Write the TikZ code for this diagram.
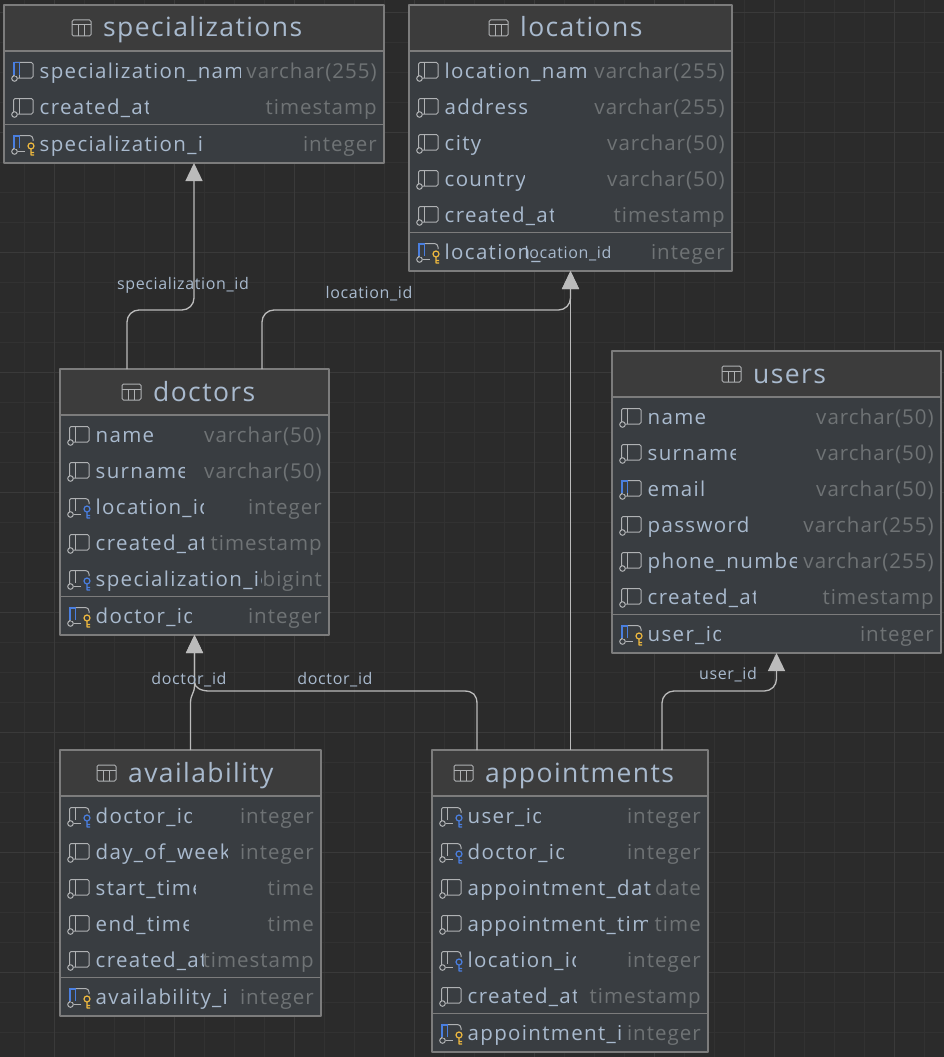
\documentclass[tikz,border=0pt]{standalone}
\usepackage{fontspec}
\setmainfont[LetterSpace=4]{Open Sans}
\newfontfamily\titlefont[LetterSpace=5.3]{Open Sans}
\newfontfamily\namefont[LetterSpace=6.5]{Open Sans}
\newfontfamily\typefont[LetterSpace=5]{Open Sans}
\usetikzlibrary{arrows.meta}
\definecolor{canvasbg}{HTML}{2B2B2B}
\definecolor{gridminor}{HTML}{323232}
\definecolor{gridmajor}{HTML}{3A3A3A}
\definecolor{headbg}{HTML}{3C3C3C}
\definecolor{bodybg}{HTML}{393D41}
\definecolor{edgegray}{HTML}{7C7C7C}
\definecolor{colname}{HTML}{A9BACE}
\definecolor{coltype}{HTML}{6F7375}
\definecolor{linkgray}{HTML}{BBBBBB}
\definecolor{iconline}{HTML}{AFB1B3}
\definecolor{iconblue}{HTML}{4A7FE0}
\definecolor{icongold}{HTML}{EDB83F}
\tikzset{
	dbtable/.style={draw=edgegray,line width=1.4pt,fill=bodybg,anchor=north west,inner sep=0pt,outer sep=0pt},
	dbtitle/.style={anchor=base west,inner sep=0pt,text=colname,font=\titlefont\fontsize{26.5}{30}\selectfont},
	dbcol/.style={anchor=base west,inner sep=0pt,text=colname,font=\namefont\fontsize{20.5}{24}\selectfont},
	dbtype/.style={anchor=base east,inner sep=0pt,text=coltype,font=\typefont\fontsize{20.5}{24}\selectfont},
	linklabel/.style={anchor=base,inner sep=0pt,text=colname,font=\fontsize{16}{18}\selectfont},
	link/.style={draw=linkgray,line width=1.3pt,rounded corners=12pt},
	iconstroke/.style={draw=iconline,line width=1pt}
}
% column icons, drawn round the origin of a shifted scope
\newcommand{\iconbody}{\draw[iconstroke,rounded corners=1.5pt] (9.5,5) -- (9.5,-8.5) -- (29,-8.5) -- (29,7) -- (13.5,7);
	\draw[iconstroke] (15.5,-8.5) -- (15.5,7);
	\draw[iconstroke] (10.5,7.5) circle (2.8);}
\newcommand{\iconshort}{\draw[iconstroke,rounded corners=1.5pt] (9.5,5) -- (9.5,-8.5) -- (27,-8.5) -- (29,-6.5) -- (29,-3);
	\draw[iconstroke] (15.5,-8.5) -- (15.5,4);
	\draw[iconstroke] (14,7.5) -- (21,7.5);
	\draw[iconstroke] (10.5,7.5) circle (2.8);}
\newcommand{\iconkey}[1]{\draw[draw=#1,line width=1.2pt] (27,2) circle (3) (27,5) -- (27,11) -- (30,11) (27,8.5) -- (30,8.5);}
\newcommand{\iconstrip}{\fill[iconblue] (9,-9) rectangle (15,4);\fill[bodybg] (11,-7.5) rectangle (15,5);\draw[iconblue,line width=1.2pt] (9.5,4) -- (9.5,-8.5) -- (15.5,-8.5) -- (15.5,4);}
\newcommand{\colplain}{\iconbody}
\newcommand{\colneeded}{\iconbody\iconstrip}
\newcommand{\colforeign}{\iconshort\iconkey{iconblue}}
\newcommand{\colprimary}{\iconshort\iconstrip\iconkey{icongold}}
% name, left, top, right, bottom, title, icon x, divider y
\newcommand{\dbbox}[8]{
	\node[dbtable,minimum width={(#4-#2)*1pt},minimum height={(#5-#3)*1pt}] (#1) at (#2,#3) {};
	\fill[headbg] (#2+1,#3+1) rectangle (#4-1,#3+45);
	\draw[edgegray,line width=1.4pt] (#2,#3+46) -- (#4,#3+46);
	\draw[edgegray,line width=.9pt] (#2,#8) -- (#4,#8);
	\draw[iconstroke,rounded corners=1.5pt] (#7,#3+15) rectangle (#7+19,#3+31);
	\draw[iconstroke] (#7,#3+20) -- (#7+19,#3+20) (#7+6.5,#3+20) -- (#7+6.5,#3+31) (#7+12.5,#3+20) -- (#7+12.5,#3+31);
	\node[dbtitle] (#1title) at (#7+31,#3+32) {#6};
}
% node name, left, right, y, clip x, text, type, icon
\newcommand{\dbrow}[8]{
	\begin{scope}[shift={(#2,#4)}]#8\end{scope}
	\begin{scope}
		\clip (#2+30,#4-16) rectangle (#5,#4+16);
		\node[dbcol] (#1) at (#2+35.5,#4+7) {#6};
	\end{scope}
	\node[dbtype] (#1type) at (#3-7,#4+7) {#7};
}
\begin{document}
\begin{tikzpicture}[x=1pt,y=-1pt,>={Triangle[length=18pt,width=17pt]},line join=round]
	\useasboundingbox (0,0) rectangle (944,1057);
	\fill[canvasbg] (0,0) rectangle (944,1057);
	\foreach \gx in {24,54,...,924} \draw[gridminor,line width=.8pt] (\gx,0) -- (\gx,1057);
	\foreach \gy in {12,42,...,1042} \draw[gridminor,line width=.8pt] (0,\gy) -- (944,\gy);
	\foreach \gx in {54,174,...,894} \draw[gridmajor,line width=.8pt] (\gx,0) -- (\gx,1057);
	\foreach \gy in {12,132,...,1012} \draw[gridmajor,line width=.8pt] (0,\gy) -- (944,\gy);

	% specializations
	\dbbox{specializations}{4}{5}{384}{163}{specializations}{72}{124.5}
	\dbrow{specname}{4}{384}{71}{240}{specialization\_name}{varchar(255)}{\colneeded}
	\dbrow{speccreated}{4}{384}{107}{148}{created\_at}{timestamp}{\colplain}
	\dbrow{specid}{4}{384}{144}{204}{specialization\_id}{integer}{\colprimary}

	% locations
	\dbbox{locations}{409}{5}{732}{271}{locations}{489}{232.5}
	\dbrow{locname}{409}{732}{71}{587}{location\_name}{varchar(255)}{\colplain}
	\dbrow{locaddress}{409}{732}{107}{529}{address}{varchar(255)}{\colplain}
	\dbrow{loccity}{409}{732}{143}{600}{city}{varchar(50)}{\colplain}
	\dbrow{loccountry}{409}{732}{179}{524}{country}{varchar(50)}{\colplain}
	\dbrow{loccreated}{409}{732}{215}{553}{created\_at}{timestamp}{\colplain}
	\dbrow{locid}{409}{732}{252}{541}{location\_id}{integer}{\colprimary}

	% doctors
	\dbbox{doctors}{60}{369}{329}{635}{doctors}{122}{596.5}
	\dbrow{docname}{60}{329}{435}{195}{name}{varchar(50)}{\colplain}
	\dbrow{docsurname}{60}{329}{471}{184}{surname}{varchar(50)}{\colplain}
	\dbrow{docloc}{60}{329}{507}{203}{location\_id}{integer}{\colforeign}
	\dbrow{doccreated}{60}{329}{543}{203}{created\_at}{timestamp}{\colplain}
	\dbrow{docspec}{60}{329}{579}{261}{specialization\_id}{bigint}{\colforeign}
	\dbrow{docid}{60}{329}{616}{191}{doctor\_id}{integer}{\colprimary}

	% users
	\dbbox{users}{612}{351}{941}{653}{users}{722}{614.5}
	\dbrow{username}{612}{941}{417}{790}{name}{varchar(50)}{\colplain}
	\dbrow{usersurname}{612}{941}{453}{735}{surname}{varchar(50)}{\colplain}
	\dbrow{useremail}{612}{941}{489}{790}{email}{varchar(50)}{\colneeded}
	\dbrow{userpass}{612}{941}{525}{747}{password}{varchar(255)}{\colplain}
	\dbrow{userphone}{612}{941}{561}{796}{phone\_number}{varchar(255)}{\colplain}
	\dbrow{usercreated}{612}{941}{597}{755}{created\_at}{timestamp}{\colplain}
	\dbrow{userid}{612}{941}{634}{720}{user\_id}{integer}{\colprimary}

	% availability
	\dbbox{availability}{60}{750}{321}{1016}{availability}{97}{977.5}
	\dbrow{avdoctor}{60}{321}{816}{191}{doctor\_id}{integer}{\colforeign}
	\dbrow{avday}{60}{321}{852}{227}{day\_of\_week}{integer}{\colplain}
	\dbrow{avstart}{60}{321}{888}{195}{start\_time}{time}{\colplain}
	\dbrow{avend}{60}{321}{924}{188}{end\_time}{time}{\colplain}
	\dbrow{avcreated}{60}{321}{960}{203}{created\_at}{timestamp}{\colplain}
	\dbrow{avid}{60}{321}{997}{228}{availability\_id}{integer}{\colprimary}

	% appointments
	\dbbox{appointments}{432}{750}{708}{1052}{appointments}{454}{1013.5}
	\dbrow{apuser}{432}{708}{816}{540}{user\_id}{integer}{\colforeign}
	\dbrow{apdoctor}{432}{708}{852}{563}{doctor\_id}{integer}{\colforeign}
	\dbrow{apdate}{432}{708}{888}{651}{appointment\_date}{date}{\colplain}
	\dbrow{aptime}{432}{708}{924}{647}{appointment\_time}{time}{\colplain}
	\dbrow{aploc}{432}{708}{960}{575}{location\_id}{integer}{\colforeign}
	\dbrow{apcreated}{432}{708}{996}{576}{created\_at}{timestamp}{\colplain}
	\dbrow{apid}{432}{708}{1033}{623}{appointment\_id}{integer}{\colprimary}

	% links
	\draw[link,->] ([xshift=-67.5pt]doctors.north) |- ++(67,-59) -- (specializations.south);
	\node[linklabel] (speclabel) at (183,289) {specialization\_id};
	\draw[link,->] ([xshift=67.5pt]doctors.north) |- ++(308.5,-59) -- (locations.south);
	\node[linklabel] (loclabela) at (369,298) {location\_id};
	\draw[link,->] (appointments.north -| locations.south) -- (locations.south);
	\node[linklabel] (loclabelb) at (568,258) {location\_id};
	\draw[link,->] ([xshift=92pt]appointments.north) |- ++(114.5,-59) -- (users.south);
	\node[linklabel] (userlabel) at (728,679) {user\_id};
	\draw[link,rounded corners=0pt,->] (availability.north) -- ++(0,-47) .. controls +(0,-9) and +(0,9) .. ++(4,-18) -- (doctors.south);
	\draw[link,rounded corners=0pt,->] ([xshift=-93pt]appointments.north) -- ++(0,-46) .. controls +(0,-9) and +(9,0) .. ++(-13,-13) -- ++(-254.5,0) .. controls +(-8,0) and +(0,6) .. ++(-15,-9) -- (doctors.south);
	\node[linklabel] (doclabela) at (189,684) {doctor\_id};
	\node[linklabel] (doclabelb) at (335,684) {doctor\_id};
\end{tikzpicture}
\end{document}
